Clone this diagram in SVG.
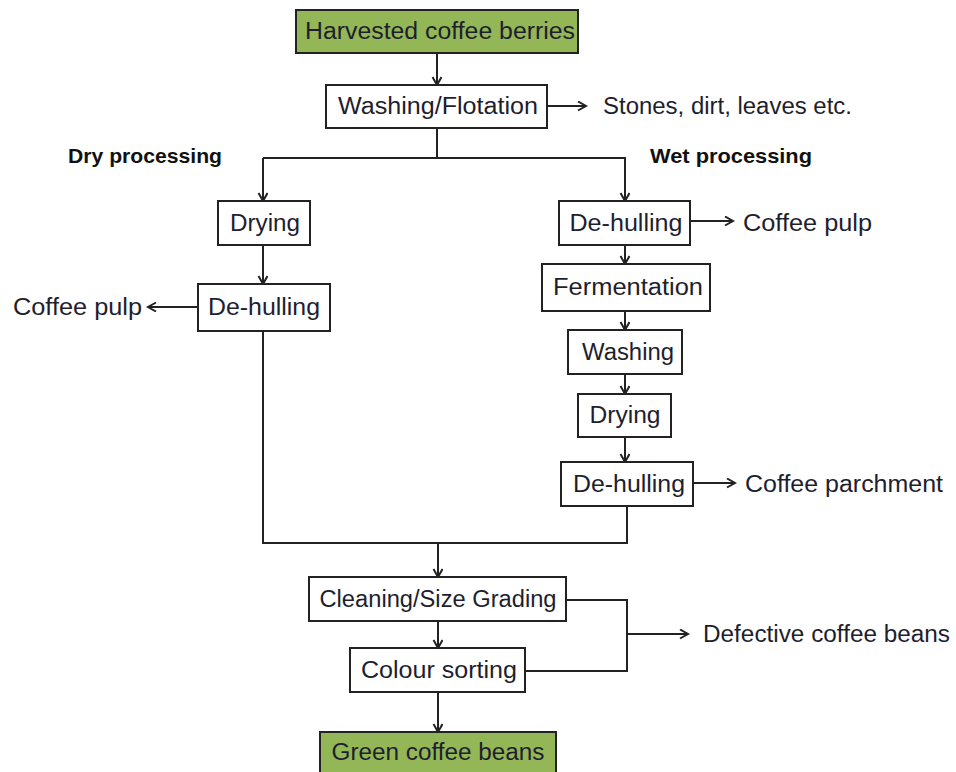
<svg xmlns="http://www.w3.org/2000/svg" width="956" height="772" viewBox="0 0 956 772">
<style>
.box{fill:#fff;stroke:#222;stroke-width:2}
.green{fill:#93b656;stroke:#222;stroke-width:2}
.t{font-family:"Liberation Sans",Arial,sans-serif;font-size:23px;fill:#1e1e2e;text-anchor:middle}
.l{font-family:"Liberation Sans",Arial,sans-serif;font-size:23px;fill:#1e1e2e}
.b{font-family:"Liberation Sans",Arial,sans-serif;font-size:21px;font-weight:bold;fill:#111}
.c{fill:none;stroke:#222;stroke-width:2}
</style>
<defs>
<marker id="a" markerUnits="userSpaceOnUse" markerWidth="12" markerHeight="12" refX="9" refY="5" orient="auto">
<path d="M1,0.5 L9,5 L1,9.5" fill="none" stroke="#222" stroke-width="2"/>
</marker>
</defs>
<rect width="956" height="772" fill="#fff"/>
<g id="connectors">
<line class="c" x1="437" y1="53" x2="437" y2="85" marker-end="url(#a)"/>
<line class="c" x1="547" y1="106" x2="586" y2="106" marker-end="url(#a)"/>
<polyline class="c" points="437,128 437,158"/>
<polyline class="c" points="263,158 625,158 625,201" marker-end="url(#a)"/>
<line class="c" x1="263" y1="158" x2="263" y2="201" marker-end="url(#a)"/>
<line class="c" x1="263" y1="245" x2="263" y2="284" marker-end="url(#a)"/>
<line class="c" x1="198" y1="307" x2="148" y2="307" marker-end="url(#a)"/>
<line class="c" x1="690" y1="221" x2="733" y2="221" marker-end="url(#a)"/>
<line class="c" x1="625" y1="245" x2="625" y2="264" marker-end="url(#a)"/>
<line class="c" x1="625" y1="311" x2="625" y2="330" marker-end="url(#a)"/>
<line class="c" x1="625" y1="374" x2="625" y2="394" marker-end="url(#a)"/>
<line class="c" x1="625" y1="437" x2="625" y2="462" marker-end="url(#a)"/>
<line class="c" x1="693" y1="483" x2="735" y2="483" marker-end="url(#a)"/>
<polyline class="c" points="263,331 263,543 627,543 627,506"/>
<line class="c" x1="438" y1="543" x2="438" y2="577" marker-end="url(#a)"/>
<line class="c" x1="438" y1="621" x2="438" y2="648" marker-end="url(#a)"/>
<line class="c" x1="438" y1="692" x2="438" y2="732" marker-end="url(#a)"/>
<polyline class="c" points="566,600 627,600 627,671 525,671"/>
<line class="c" x1="627" y1="634" x2="688" y2="634" marker-end="url(#a)"/>
</g>
<g id="harvested"><rect class="green" x="296" y="10" width="282" height="43"/><text class="t" x="440" y="39" textLength="270" lengthAdjust="spacingAndGlyphs">Harvested coffee berries</text></g>
<g id="washing-flotation"><rect class="box" x="326" y="85" width="221" height="43"/><text class="t" x="438" y="114" textLength="200" lengthAdjust="spacingAndGlyphs">Washing/Flotation</text></g>
<g id="stones"><text class="l" x="603" y="114" textLength="249" lengthAdjust="spacingAndGlyphs">Stones, dirt, leaves etc.</text></g>
<g id="dry-label"><text class="b" x="68" y="163" textLength="154" lengthAdjust="spacingAndGlyphs">Dry processing</text></g>
<g id="wet-label"><text class="b" x="650" y="163" textLength="162" lengthAdjust="spacingAndGlyphs">Wet processing</text></g>
<g id="dry-drying"><rect class="box" x="218" y="201" width="92" height="44"/><text class="t" x="265" y="231" textLength="70" lengthAdjust="spacingAndGlyphs">Drying</text></g>
<g id="dry-dehulling"><rect class="box" x="198" y="284" width="132" height="47"/><text class="t" x="264" y="315" textLength="112" lengthAdjust="spacingAndGlyphs">De-hulling</text></g>
<g id="dry-pulp"><text class="l" x="13" y="315" textLength="129" lengthAdjust="spacingAndGlyphs">Coffee pulp</text></g>
<g id="wet-dehulling"><rect class="box" x="559" y="201" width="131" height="44"/><text class="t" x="626" y="231" textLength="113" lengthAdjust="spacingAndGlyphs">De-hulling</text></g>
<g id="wet-pulp"><text class="l" x="743" y="231" textLength="129" lengthAdjust="spacingAndGlyphs">Coffee pulp</text></g>
<g id="fermentation"><rect class="box" x="542" y="264" width="168" height="47"/><text class="t" x="628" y="295" textLength="150" lengthAdjust="spacingAndGlyphs">Fermentation</text></g>
<g id="wet-washing"><rect class="box" x="568" y="330" width="114" height="44"/><text class="t" x="628" y="360" textLength="92" lengthAdjust="spacingAndGlyphs">Washing</text></g>
<g id="wet-drying"><rect class="box" x="578" y="394" width="93" height="43"/><text class="t" x="625" y="423" textLength="71" lengthAdjust="spacingAndGlyphs">Drying</text></g>
<g id="wet-dehulling2"><rect class="box" x="561" y="462" width="132" height="44"/><text class="t" x="629" y="492" textLength="112" lengthAdjust="spacingAndGlyphs">De-hulling</text></g>
<g id="parchment"><text class="l" x="745" y="492" textLength="198" lengthAdjust="spacingAndGlyphs">Coffee parchment</text></g>
<g id="cleaning"><rect class="box" x="309" y="577" width="257" height="44"/><text class="t" x="438" y="607" textLength="237" lengthAdjust="spacingAndGlyphs">Cleaning/Size Grading</text></g>
<g id="colour-sorting"><rect class="box" x="350" y="648" width="175" height="44"/><text class="t" x="439" y="678" textLength="156" lengthAdjust="spacingAndGlyphs">Colour sorting</text></g>
<g id="defective"><text class="l" x="703" y="642" textLength="247" lengthAdjust="spacingAndGlyphs">Defective coffee beans</text></g>
<g id="green-beans"><rect class="green" x="320" y="732" width="236" height="44"/><text class="t" x="438" y="760" textLength="213" lengthAdjust="spacingAndGlyphs">Green coffee beans</text></g>
</svg>
